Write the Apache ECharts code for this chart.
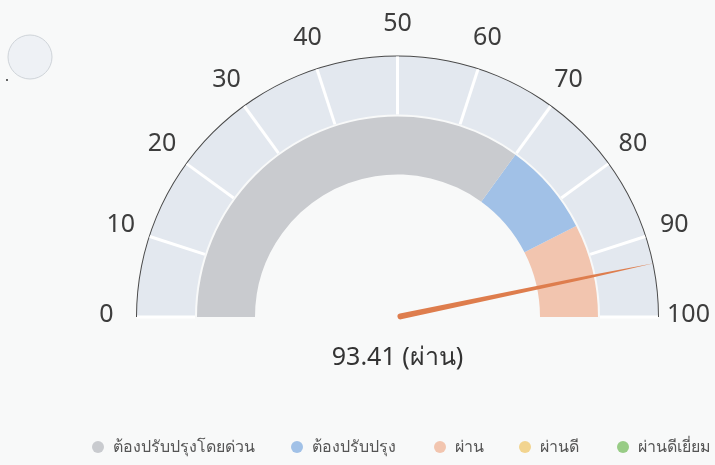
<!DOCTYPE html>
<html><head><meta charset="utf-8">
<script src="https://cdn.jsdelivr.net/npm/echarts@6/dist/echarts.min.js"></script>
<style>html,body{margin:0;padding:0;background:#f8f9f9}#c{width:715px;height:465px}</style>
</head><body><div id="c"></div>
<script>
// ---- data ----
const categories = ['ต้องปรับปรุงโดยด่วน', 'ต้องปรับปรุง', 'ผ่าน', 'ผ่านดี', 'ผ่านดีเยี่ยม'];
const categoryColors = ['#c9cbcf', '#a1c1e7', '#f2c5af', '#f2d48f', '#98cc86'];
const bandUpperBounds = [70, 85, 100];   // grade bands shown on the inner ring
const bandCategory = [0, 1, 2];          // category index for each band
const axisMin = 0;
const axisMax = 100;
const axisSplitNumber = 10;
const scoreValue = 93.41;
const scoreCategory = 2;

// ---- chart ----
const center = [397.5, 317];
const labelCenter = [397.5, 315];
const FONT = '"Noto Sans", sans-serif';
const legendLefts = [92, 291, 434, 519, 617];
const bandColors = bandUpperBounds.map((u, i) => [(u - axisMin) / (axisMax - axisMin), categoryColors[bandCategory[i]]]);
const off = { show: false };
const base = {
  type: 'gauge', center, startAngle: 180, endAngle: 0, min: axisMin, max: axisMax,
  splitNumber: axisSplitNumber, pointer: off, anchor: off, title: off, detail: off,
  axisTick: off, axisLabel: off, splitLine: off, progress: off, silent: true, animation: false
};

const series = [
  Object.assign({}, base, {
    radius: 261.5,
    axisLine: { lineStyle: { width: 1.8, color: [[1, '#4a4a4a']] } },
    data: []
  }),
  Object.assign({}, base, {
    radius: 260.5,
    axisLine: { lineStyle: { width: 58, color: [[1, '#e3e8ef']] } },
    splitLine: { show: true, length: 58, distance: -58, lineStyle: { color: '#ffffff', width: 3 } },
    data: []
  }),
  Object.assign({}, base, {
    radius: 200.5,
    axisLine: { lineStyle: { width: 58, color: bandColors } },
    data: []
  }),
  Object.assign({}, base, {
    center: labelCenter,
    radius: 260.5,
    axisLine: { show: false, lineStyle: { width: 0 } },
    splitLine: { show: false, length: 0, distance: 0 },
    axisLabel: { show: true, distance: -30.5, rotate: 0.0001, color: '#3d3d3d', fontSize: 25, fontFamily: FONT },
    data: []
  }),
  Object.assign({}, base, {
    radius: 260.5,
    axisLine: { show: false, lineStyle: { width: 0 } },
    pointer: {
      show: true, icon: 'path://M3,0 L4.4,66 L6,258 A3,3 0 0 1 0,258 L1.6,66 Z', length: 262, width: 6,
      offsetCenter: [0, 0], itemStyle: { color: '#de7d4d' }
    },
    detail: {
      show: true, offsetCenter: [0, 41], fontSize: 25, color: '#333333', fontWeight: 'normal', fontFamily: FONT,
      formatter: v => v.toFixed(2) + ' (' + categories[scoreCategory] + ')'
    },
    data: [{ value: scoreValue }]
  })
];

categories.forEach((name, i) => {
  series.push(Object.assign({}, base, {
    name, radius: 0, axisLine: { show: false, lineStyle: { width: 0 } },
    itemStyle: { color: categoryColors[i] }, data: []
  }));
});

const legends = categories.map((name, i) => ({
  data: [{ name, icon: 'circle' }],
  top: 439, left: legendLefts[i], itemWidth: 12, itemHeight: 12, padding: 0,
  textStyle: { color: '#555', fontSize: 16, fontFamily: FONT, padding: [0, 0, 0, 4] },
  selectedMode: false
}));

const chart = echarts.init(document.getElementById('c'), null, { renderer: 'canvas' });
chart.setOption({
  backgroundColor: '#f8f9f9',
  animation: false,
  legend: legends,
  graphic: [
    { type: 'circle', shape: { cx: 30, cy: 57, r: 22 }, style: { fill: '#eef1f5', stroke: '#cfd4d9', lineWidth: 1 }, silent: true },
    { type: 'circle', shape: { cx: 7, cy: 80, r: 1 }, style: { fill: '#333' }, silent: true }
  ],
  series
});
</script></body></html>
